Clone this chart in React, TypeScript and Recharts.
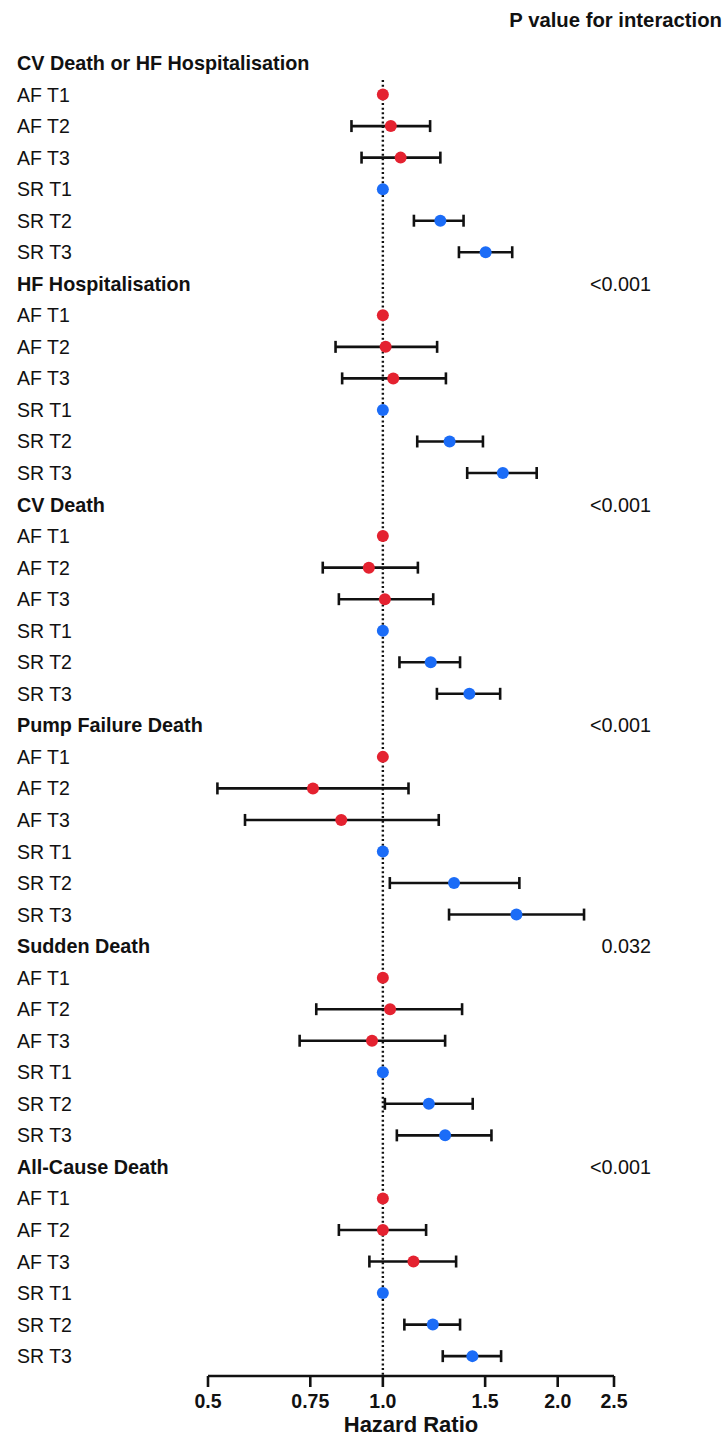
import React from 'react';
import { ScatterChart, Scatter, XAxis, YAxis, ErrorBar, ReferenceLine } from 'recharts';

const sectionNames = [
  'CV Death or HF Hospitalisation',
  'HF Hospitalisation',
  'CV Death',
  'Pump Failure Death',
  'Sudden Death',
  'All-Cause Death',
];
const pValues = ['', '<0.001', '<0.001', '<0.001', '0.032', '<0.001'];
const rowLabels = ['AF T1', 'AF T2', 'AF T3', 'SR T1', 'SR T2', 'SR T3'];
const rowGroup = ['AF', 'AF', 'AF', 'SR', 'SR', 'SR'];

const hazardRatios = [
  [1.0, 1.032, 1.073, 1.0, 1.256, 1.503],
  [1.0, 1.011, 1.042, 1.0, 1.303, 1.609],
  [1.0, 0.946, 1.008, 1.0, 1.209, 1.409],
  [1.0, 0.758, 0.848, 1.0, 1.326, 1.698],
  [1.0, 1.029, 0.958, 1.0, 1.2, 1.28],
  [1.0, 1.0, 1.129, 1.0, 1.219, 1.426],
];
const lowerCI = [
  [null, 0.883, 0.919, null, 1.131, 1.352],
  [null, 0.829, 0.851, null, 1.146, 1.397],
  [null, 0.788, 0.84, null, 1.068, 1.239],
  [null, 0.519, 0.579, null, 1.028, 1.3],
  [null, 0.768, 0.719, null, 1.008, 1.057],
  [null, 0.84, 0.948, null, 1.089, 1.268],
];
const upperCI = [
  [null, 1.206, 1.256, null, 1.377, 1.67],
  [null, 1.24, 1.284, null, 1.487, 1.84],
  [null, 1.149, 1.221, null, 1.358, 1.592],
  [null, 1.107, 1.248, null, 1.718, 2.22],
  [null, 1.369, 1.28, null, 1.428, 1.538],
  [null, 1.187, 1.337, null, 1.358, 1.598],
];

const xTicks = [0.5, 0.75, 1.0, 1.5, 2.0, 2.5];
const xTickLabels = ['0.5', '0.75', '1.0', '1.5', '2.0', '2.5'];

const ROWS_PER_SECTION = 7;
const totalRows = sectionNames.length * ROWS_PER_SECTION;
const yTicks = Array.from({ length: totalRows }, (_, i) => i);

type Pt = { x: number; y: number; err: number[] | null };
const afData: Pt[] = [];
const srData: Pt[] = [];
hazardRatios.forEach((sec, s) => {
  sec.forEach((hr, r) => {
    const lo = lowerCI[s][r];
    const hi = upperCI[s][r];
    const pt: Pt = {
      x: hr,
      y: s * ROWS_PER_SECTION + 1 + r,
      err: lo != null && hi != null ? [hr - lo, hi - hr] : null,
    };
    if (rowGroup[r] === 'AF') afData.push(pt);
    else srData.push(pt);
  });
});

const FONT = '"Liberation Sans", Arial, Helvetica, sans-serif';
const RED = '#e42230';
const BLUE = '#1b6cf7';

const YTick = (props: any) => {
  const { y, payload } = props;
  const row = payload.value as number;
  const s = Math.floor(row / ROWS_PER_SECTION);
  const r = row % ROWS_PER_SECTION;
  if (r === 0) {
    return (
      <g>
        <text x={17} y={y} dy="0.36em" fontFamily={FONT} fontWeight="bold" fontSize={19.8} fill="#111">
          {sectionNames[s]}
        </text>
        {pValues[s] ? (
          <text x={651} y={y} dy="0.36em" textAnchor="end" fontFamily={FONT} fontSize={19.8} fill="#111">
            {pValues[s]}
          </text>
        ) : null}
      </g>
    );
  }
  return (
    <text x={17} y={y} dy="0.36em" fontFamily={FONT} fontSize={19.5} fill="#111">
      {rowLabels[r - 1]}
    </text>
  );
};

const XTick = (props: any) => {
  const { x, y, payload } = props;
  const i = xTicks.indexOf(payload.value);
  return (
    <text x={x} y={y} dy="0.71em" textAnchor="middle" fontFamily={FONT} fontWeight="bold" fontSize={19.5} fill="#111">
      {i >= 0 ? xTickLabels[i] : String(payload.value)}
    </text>
  );
};

const dot = (color: string) => (props: any) => (
  <circle cx={props.cx} cy={props.cy} r={6} fill={color} />
);

export default function App() {
  return (
    <div style={{ position: 'absolute', left: 0, top: 0, width: 725, height: 1443, background: '#fff' }}>
      <div
        style={{
          position: 'absolute',
          right: 3,
          top: 10,
          fontFamily: FONT,
          fontWeight: 'bold',
          fontSize: 20.3,
          lineHeight: '20px',
          color: '#111',
          whiteSpace: 'nowrap',
        }}
      >
        P value for interaction
      </div>
      <ScatterChart width={725} height={1443} margin={{ top: 47.23, right: 111, bottom: 0, left: 0 }}>
        <XAxis
          type="number"
          dataKey="x"
          scale="log"
          domain={[0.5, 2.5]}
          ticks={xTicks}
          allowDataOverflow
          interval={0}
          height={67}
          axisLine={{ stroke: '#111', strokeWidth: 2.6 }}
          tickLine={{ stroke: '#111', strokeWidth: 2.6 }}
          tickSize={11}
          tickMargin={7}
          tick={<XTick />}
          label={{
            value: 'Hazard Ratio',
            position: 'insideBottom',
            offset: 11,
            style: { fontFamily: FONT, fontWeight: 'bold', fontSize: 22, fill: '#111' },
          }}
        />
        <YAxis
          type="number"
          dataKey="y"
          reversed
          domain={[-0.5, 41.63]}
          ticks={yTicks}
          interval={0}
          width={208}
          axisLine={false}
          tickLine={false}
          tick={<YTick />}
        />
        <ReferenceLine
          segment={[
            { x: 1, y: 0.54 },
            { x: 1, y: 41.63 },
          ]}
          stroke="#111"
          strokeWidth={2.4}
          strokeDasharray="2 2.6"
          ifOverflow="visible"
        />
        <Scatter data={afData} isAnimationActive={false} shape={dot(RED)}>
          <ErrorBar dataKey="err" direction="x" width={6} stroke="#111" strokeWidth={2.6} />
        </Scatter>
        <Scatter data={srData} isAnimationActive={false} shape={dot(BLUE)}>
          <ErrorBar dataKey="err" direction="x" width={6} stroke="#111" strokeWidth={2.6} />
        </Scatter>
      </ScatterChart>
    </div>
  );
}
